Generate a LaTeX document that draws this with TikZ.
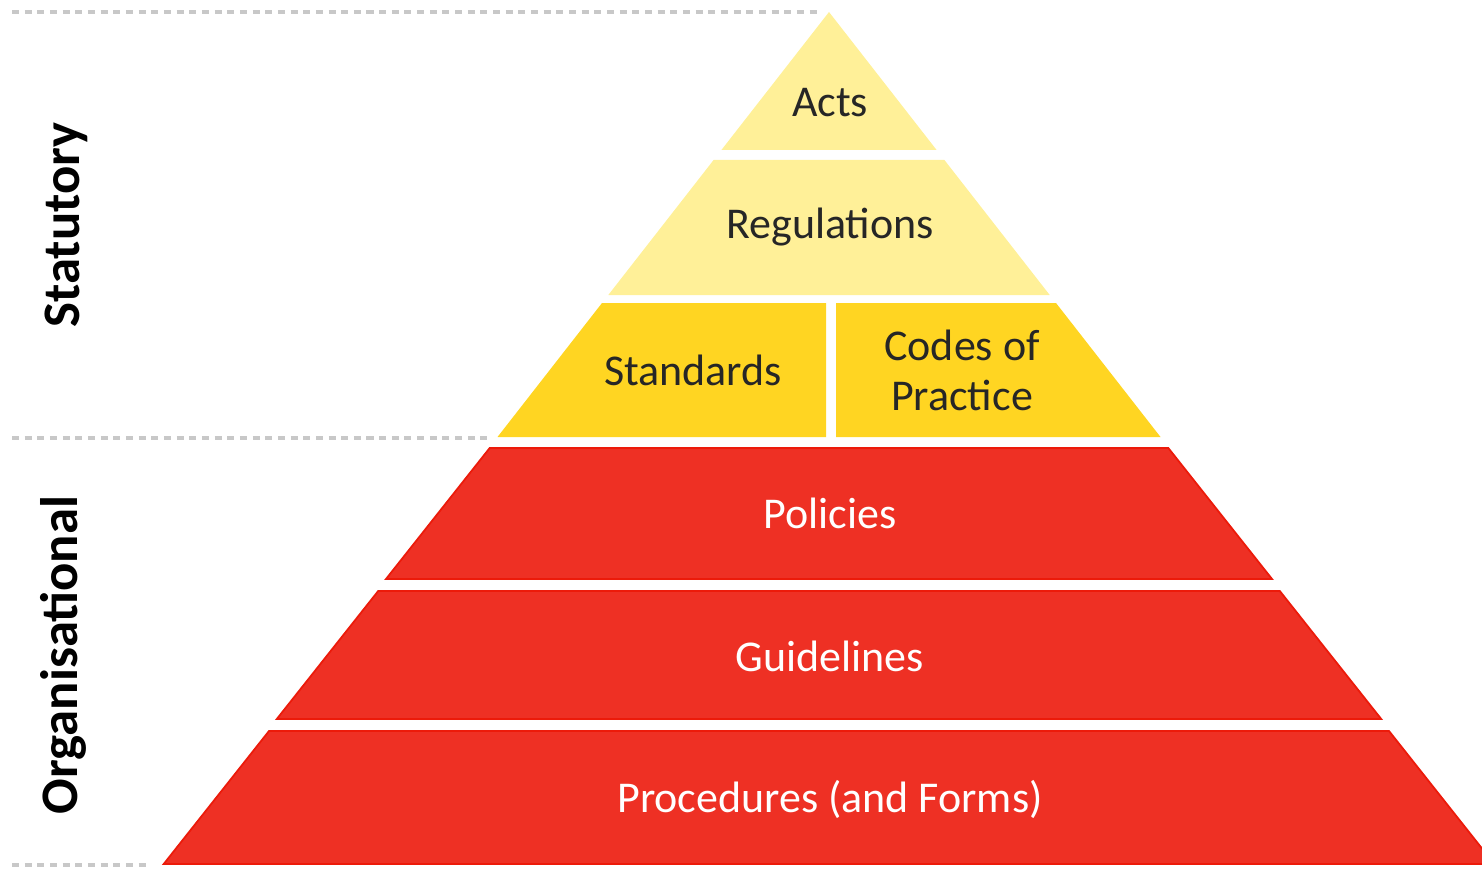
\documentclass[tikz,border=0pt]{standalone}
\usepackage{fontspec}
\setmainfont{Carlito}
\usepackage{tikz}

\definecolor{paleyellow}{RGB}{255,240,152}
\definecolor{goldyellow}{RGB}{255,213,34}
\definecolor{layerred}{RGB}{238,48,36}
\definecolor{edgered}{RGB}{236,26,10}
\definecolor{guidegray}{RGB}{200,200,200}

\begin{document}
\begin{tikzpicture}[x=0.01cm,y=-0.01cm]
    \tikzstyle{every node}+=[inner sep=0pt]
    \tikzstyle{darktext}=[font=\fontsize{12.5}{15}\selectfont, text=black!85]
    \tikzstyle{whitetext}=[font=\fontsize{12.5}{15}\selectfont, text=white]
    \tikzstyle{sidetext}=[font=\fontsize{15}{18}\selectfont\bfseries, text=black, rotate=90]
    \tikzstyle{guide}=[guidegray, line width=0.9pt, dash pattern=on 2pt off 1.6pt]
    \useasboundingbox (0,0) rectangle (1482,870);
    \clip (0,0) rectangle (1482,870);
    % dashed guides
    \draw [guide] (12,12) -- (820,12);
    \draw [guide] (12,438) -- (490,438);
    \draw [guide] (12,865) -- (150,865);
    % statutory layers
    \fill [paleyellow] (829,12) -- (936.6,150) -- (721.4,150) -- cycle;
    \draw (830,103) node [darktext] (acts) {Acts};
    \fill [paleyellow] (713.6,160) -- (944.4,160) -- (1049.7,295) -- (608.3,295) -- cycle;
    \draw (830,227) node [darktext] (regulations) {Regulations};
    \fill [goldyellow] (602,303) -- (826,303) -- (826,437) -- (497.5,437) -- cycle;
    \draw (693,370) node [darktext] (standards) {Standards};
    \fill [goldyellow] (836,303) -- (1056,303) -- (1160.5,437) -- (836,437) -- cycle;
    \draw (962,370) node [darktext, align=center] (codes) {Codes of\\[-0.8pt]Practice};
    % organisational layers
    \filldraw [fill=layerred, draw=edgered, line width=0.5pt] (489.7,448) -- (1168.3,448) -- (1272,579) -- (386,579) -- cycle;
    \draw (830,513) node [whitetext] (policies) {Policies};
    \filldraw [fill=layerred, draw=edgered, line width=0.5pt] (378.2,591) -- (1279.8,591) -- (1381.2,719) -- (276.8,719) -- cycle;
    \draw (830,656) node [whitetext] (guidelines) {Guidelines};
    \filldraw [fill=layerred, draw=edgered, line width=0.5pt] (269,731) -- (1389,731) -- (1494.3,864) -- (163.7,864) -- cycle;
    \draw (830,799) node [whitetext] (procedures) {Procedures (and Forms)};
    % side labels
    \draw (66,225) node [sidetext] (statutory) {Statutory};
    \draw (63,655) node [sidetext] (organisational) {Organisational};
\end{tikzpicture}
\end{document}
